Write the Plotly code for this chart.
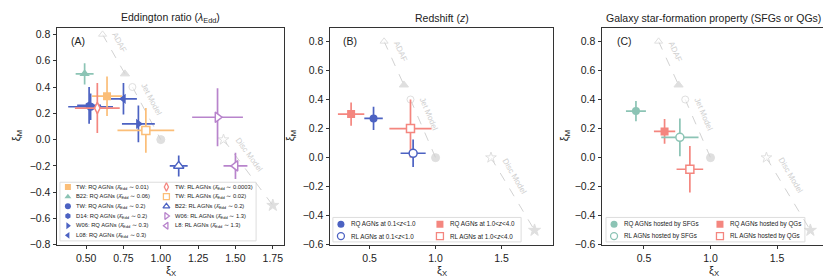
import math
import plotly.graph_objects as go

# ---------------- data ----------------
MODEL_NAMES = ["ADAF", "Jet Model", "Disc Model"]
MODEL_X0 = [0.61, 0.81, 1.42]
MODEL_Y0 = [0.80, 0.40, 0.00]
MODEL_X1 = [0.76, 1.00, 1.75]
MODEL_Y1 = [0.50, 0.00, -0.50]

# Panel A (Eddington ratio)
A_NAMES = [
    "TW: RQ AGNs (<i>λ̄</i><sub>Edd</sub> ∼ 0.01)",
    "B22: RQ AGNs (<i>λ̄</i><sub>Edd</sub> ∼ 0.06)",
    "TW: RQ AGNs (<i>λ̄</i><sub>Edd</sub> ∼ 0.2)",
    "D14: RQ AGNs (<i>λ̄</i><sub>Edd</sub> ∼ 0.2)",
    "W06: RQ AGNs (<i>λ̄</i><sub>Edd</sub> ∼ 0.3)",
    "L08: RQ AGNs (<i>λ̄</i><sub>Edd</sub> ∼ 0.3)",
    "TW: RL AGNs (<i>λ̄</i><sub>Edd</sub> ∼ 0.0003)",
    "TW: RL AGNs (<i>λ̄</i><sub>Edd</sub> ∼ 0.02)",
    "B22: RL AGNs (<i>λ̄</i><sub>Edd</sub> ∼ 0.2)",
    "W06: RL AGNs (<i>λ̄</i><sub>Edd</sub> ∼ 1.3)",
    "L8: RL AGNs (<i>λ̄</i><sub>Edd</sub> ∼ 1.3)",
]
A_X = [0.64, 0.49, 0.53, 0.52, 0.85, 0.75, 0.575, 0.90, 1.12, 1.38, 1.50]
A_Y = [0.33, 0.50, 0.25, 0.26, 0.12, 0.31, 0.24, 0.07, -0.20, 0.17, -0.20]
A_XERR = [0.10, 0.06, 0.15, 0.08, 0.11, 0.09, 0.15, 0.19, 0.06, 0.17, 0.08]
A_YERR = [0.15, 0.08, 0.10, 0.14, 0.14, 0.12, 0.19, 0.17, 0.08, 0.22, 0.10]

# Panel B (Redshift)
B_NAMES = [
    "RQ AGNs at 0.1&lt;<i>z</i>&lt;1.0",
    "RL AGNs at 0.1&lt;<i>z</i>&lt;1.0",
    "RQ AGNs at 1.0&lt;<i>z</i>&lt;4.0",
    "RL AGNs at 1.0&lt;<i>z</i>&lt;4.0",
]
B_X = [0.53, 0.83, 0.36, 0.81]
B_Y = [0.27, 0.03, 0.30, 0.20]
B_XERR = [0.07, 0.095, 0.10, 0.16]
B_YERR = [0.08, 0.095, 0.08, 0.20]

# Panel C (star-formation property)
C_NAMES = [
    "RQ AGNs hosted by SFGs",
    "RL AGNs hosted by SFGs",
    "RQ AGNs hosted by QGs",
    "RL AGNs hosted by QGs",
]
C_X = [0.44, 0.77, 0.655, 0.845]
C_Y = [0.32, 0.14, 0.18, -0.08]
C_XERR = [0.075, 0.14, 0.08, 0.10]
C_YERR = [0.07, 0.13, 0.085, 0.16]

# ---------------- styles ----------------
ORANGE = "#FBBE78"
TEAL = "#8CC4B5"
BLUE = "#4C62C2"
RED = "#F4867F"
PURPLE = "#B884CC"
GREY = "#D2D2D2"
FONT = "Liberation Sans, Arial, sans-serif"

A_STYLE = [  # (symbol, color, open)
    ("square", ORANGE, False),
    ("triangle-up", TEAL, False),
    ("circle", BLUE, False),
    ("hexagon", BLUE, False),
    ("triangle-right", BLUE, False),
    ("triangle-left", BLUE, False),
    ("diamond-tall", RED, True),
    ("square", ORANGE, True),
    ("triangle-up", BLUE, True),
    ("triangle-right", PURPLE, True),
    ("triangle-left", PURPLE, True),
]
A_DRAW_ORDER = [1, 3, 2, 5, 0, 4, 7, 6, 8, 9, 10]
B_STYLE = [("circle", BLUE, False), ("circle", BLUE, True),
           ("square", RED, False), ("square", RED, True)]
B_DRAW_ORDER = [2, 0, 3, 1]
C_STYLE = [("circle", TEAL, False), ("circle", TEAL, True),
           ("square", RED, False), ("square", RED, True)]
C_DRAW_ORDER = [0, 2, 1, 3]

W, H = 831, 280
PLOT_TOP, PLOT_BOT = 20, 242
PANELS = [
    dict(px=(49, 276), xr=[0.305, 1.825], yr=[-0.8, 0.852], xt=[0.5, 0.75, 1.0, 1.25, 1.5, 1.75],
         xfmt=".2f", yt=[-0.8, -0.6, -0.4, -0.2, 0.0, 0.2, 0.4, 0.6, 0.8],
         title="Eddington ratio (<i>λ</i><sub>Edd</sub>)", tag="(A)", tagx=0.053,
         ylab_px=9),
    dict(px=(322, 545), xr=[0.2, 1.89], yr=[-0.6, 0.895], xt=[0.5, 1.0, 1.5],
         xfmt=".1f", yt=[-0.6, -0.4, -0.2, 0.0, 0.2, 0.4, 0.6, 0.8],
         title="Redshift (<i>z</i>)", tag="(B)", tagx=0.049, ylab_px=283),
    dict(px=(594, 817), xr=[0.185, 1.86], yr=[-0.6, 0.895], xt=[0.5, 1.0, 1.5],
         xfmt=".1f", yt=[-0.6, -0.4, -0.2, 0.0, 0.2, 0.4, 0.6, 0.8],
         title="Galaxy star-formation property (SFGs or QGs)", tag="(C)", tagx=0.058,
         ylab_px=557),
]

fig = go.Figure()
annotations = []
shapes = []


def ax_names(i):
    return ("x" if i == 0 else f"x{i+1}"), ("y" if i == 0 else f"y{i+1}")


def add_point(i, x, y, xe, ye, style, size):
    xa, ya = ax_names(i)
    sym, col, op = style
    fig.add_trace(go.Scatter(
        x=[x], y=[y], mode="markers", xaxis=xa, yaxis=ya, showlegend=False,
        error_x=dict(type="data", array=[xe], width=0, thickness=1.7, color=col),
        error_y=dict(type="data", array=[ye], width=0, thickness=1.7, color=col),
        marker=dict(symbol=sym, size=size, color="white" if op else col,
                    line=dict(color=col, width=1.5 if op else 0)),
    ))


def add_models(i):
    xa, ya = ax_names(i)
    p = PANELS[i]
    sx = (p["px"][1] - p["px"][0]) / (p["xr"][1] - p["xr"][0])
    sy = (PLOT_BOT - PLOT_TOP) / (p["yr"][1] - p["yr"][0])
    syms = ["triangle-up", "circle", "star"]
    for k in range(3):
        fig.add_trace(go.Scatter(
            x=[MODEL_X0[k], MODEL_X1[k]], y=[MODEL_Y0[k], MODEL_Y1[k]],
            mode="lines+markers", xaxis=xa, yaxis=ya, showlegend=False,
            line=dict(color=GREY, width=1, dash="dash"),
            marker=dict(symbol=syms[k], size=[7, 8] if k != 2 else [8, 9],
                        color=["white", GREY], line=dict(color=GREY, width=1)),
        ))
        dxp = (MODEL_X1[k] - MODEL_X0[k]) * sx
        dyp = -(MODEL_Y1[k] - MODEL_Y0[k]) * sy  # screen down positive
        L = math.hypot(dxp, dyp)
        ux, uy = dxp / L, dyp / L
        ang = math.degrees(math.atan2(dyp, dxp))
        t = 0.33
        off = 11
        annotations.append(dict(
            x=MODEL_X0[k] + t * (MODEL_X1[k] - MODEL_X0[k]),
            y=MODEL_Y0[k] + t * (MODEL_Y1[k] - MODEL_Y0[k]),
            xref=xa, yref=ya, text=MODEL_NAMES[k], showarrow=False,
            xanchor="center", yanchor="middle",
            textangle=ang, xshift=uy * off, yshift=ux * off,
            font=dict(size=8, color="#CFCFCF", family=FONT)))


def add_legend(i, names, styles, cols_mx, cols_tx, rows_y, box, msize, fsize, nrows):
    xa, ya = ax_names(i)
    p = PANELS[i]
    shapes.append(dict(type="rect", xref=f"{xa} domain", yref=f"{ya} domain",
                       x0=box[0], x1=box[1], y0=box[2], y1=box[3],
                       line=dict(color="#DDDDDD", width=1), fillcolor="rgba(255,255,255,0.8)",
                       layer="below"))
    for j, nm in enumerate(names):
        c, r = divmod(j, nrows)
        fx, fy = cols_mx[c], rows_y[r]
        sym, col, op = styles[j]
        fig.add_trace(go.Scatter(
            x=[p["xr"][0] + fx * (p["xr"][1] - p["xr"][0])],
            y=[p["yr"][0] + fy * (p["yr"][1] - p["yr"][0])],
            mode="markers", xaxis=xa, yaxis=ya, showlegend=False, hoverinfo="skip",
            marker=dict(symbol=sym, size=msize, color="white" if op else col,
                        line=dict(color=col, width=1.3 if op else 0))))
        annotations.append(dict(x=cols_tx[c], y=fy, xref=f"{xa} domain", yref=f"{ya} domain",
                                text=nm, showarrow=False, xanchor="left", yanchor="middle",
                                font=dict(size=fsize, color="#222222", family=FONT)))


# Panel A
add_models(0)
for k in A_DRAW_ORDER:
    add_point(0, A_X[k], A_Y[k], A_XERR[k], A_YERR[k], A_STYLE[k],
              9 if A_STYLE[k][0].startswith("triangle") else 8)
rowsA = [0.266 - 0.0445 * r for r in range(6)]
add_legend(0, A_NAMES, A_STYLE, [0.048, 0.482], [0.075, 0.51], rowsA,
           (0.013, 0.877, 0.018, 0.288), 6, 5.8, 6)

# Panel B
add_models(1)
for k in B_DRAW_ORDER:
    add_point(1, B_X[k], B_Y[k], B_XERR[k], B_YERR[k], B_STYLE[k], 8)
add_legend(1, B_NAMES, B_STYLE, [0.049, 0.493], [0.085, 0.53], [0.095, 0.04],
           (0.013, 0.857, 0.0135, 0.126), 7, 6.3, 2)

# Panel C
add_models(2)
for k in C_DRAW_ORDER:
    add_point(2, C_X[k], C_Y[k], C_XERR[k], C_YERR[k], C_STYLE[k], 8)
add_legend(2, C_NAMES, C_STYLE, [0.054, 0.529], [0.09, 0.566], [0.095, 0.04],
           (0.018, 0.91, 0.0135, 0.126), 7, 6.3, 2)

# axes
layout_axes = {}
ydom = [(H - PLOT_BOT) / H, (H - PLOT_TOP) / H]
for i, p in enumerate(PANELS):
    xa, ya = ax_names(i)
    xkey = "xaxis" if i == 0 else f"xaxis{i+1}"
    ykey = "yaxis" if i == 0 else f"yaxis{i+1}"
    common = dict(showgrid=False, zeroline=False, showline=True, linecolor="#333333",
                  linewidth=1, mirror=True, ticks="outside", ticklen=3.5, tickwidth=1,
                  tickcolor="#333333", tickfont=dict(size=10.5, color="#222222", family=FONT))
    layout_axes[xkey] = dict(domain=[p["px"][0] / W, p["px"][1] / W], range=p["xr"],
                             tickvals=p["xt"], tickformat=p["xfmt"], anchor=ya, **common)
    layout_axes[ykey] = dict(domain=ydom, range=p["yr"], tickvals=p["yt"],
                             tickformat=".1f", anchor=xa, **common)
    cx = (p["px"][0] + p["px"][1]) / 2 / W
    annotations.append(dict(x=cx, y=(H - 10) / H, xref="paper", yref="paper",
                            text=p["title"], showarrow=False, xanchor="center",
                            yanchor="middle",
                            font=dict(size=10.5, color="#222222", family=FONT)))
    annotations.append(dict(x=cx, y=(H - 269) / H, xref="paper", yref="paper",
                            text="ξ<sub>X</sub>", showarrow=False, xanchor="center",
                            yanchor="middle",
                            font=dict(size=11, color="#222222", family=FONT)))
    annotations.append(dict(x=p["ylab_px"] / W, y=(H - 131) / H, xref="paper", yref="paper",
                            text="ξ<sub>M</sub>", showarrow=False, textangle=-90,
                            xanchor="center", yanchor="middle",
                            font=dict(size=11, color="#222222", family=FONT)))
    annotations.append(dict(x=p["tagx"], y=0.937, xref=f"{xa} domain", yref=f"{ya} domain",
                            text=p["tag"], showarrow=False, xanchor="left", yanchor="middle",
                            font=dict(size=10.5, color="#222222", family=FONT)))

fig.update_layout(width=W, height=H, margin=dict(l=0, r=0, t=0, b=0),
                  plot_bgcolor="white", paper_bgcolor="white",
                  annotations=annotations, shapes=shapes, **layout_axes)
fig.write_html("out.html")
